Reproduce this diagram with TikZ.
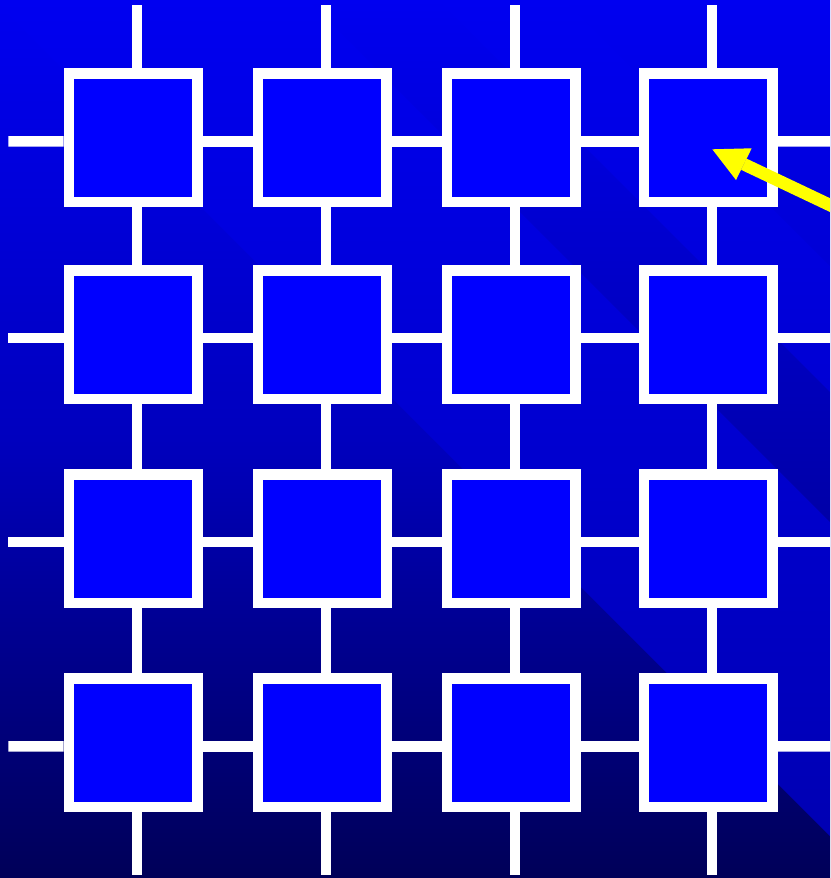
\documentclass[tikz,border=0pt]{standalone}
\usetikzlibrary{arrows.meta}
\definecolor{sqblue}{RGB}{0,0,255}
\definecolor{bgtop}{RGB}{0,0,240}
\definecolor{bgmid}{RGB}{0,0,190}
\definecolor{bgbot}{RGB}{0,0,88}
\definecolor{bandbot}{RGB}{0,0,176}
\definecolor{darkbandbot}{RGB}{0,0,117}
\definecolor{cornerbot}{RGB}{0,0,152}
\definecolor{arrowyellow}{RGB}{255,255,0}
\tikzset{
  cell/.style={rectangle, draw=white, line width=10.5pt, fill=sqblue,
    minimum width=128.5pt, minimum height=128.5pt, inner sep=0pt},
  link/.style={draw=white, line width=10.6pt},
  shaft/.style={draw=arrowyellow, line width=12.5pt},
  head/.style={fill=arrowyellow}
}
\begin{document}
\begin{tikzpicture}[x=1pt,y=-1pt]
\useasboundingbox (0,0) rectangle (830,878);
\clip (0,0) rectangle (830,878);
% background: base vertical gradient
\shade[top color=bgtop, bottom color=bgbot, middle color=bgmid] (0,0) rectangle (830,878);
% diagonal bands
\begin{scope}
  \clip (0,0) -- (308,0) -- (830,522) -- (830,836) -- (0,6) -- cycle;
  \shade[top color=bgtop, bottom color=bandbot] (0,0) rectangle (830,878);
\end{scope}
\begin{scope}
  \clip (308,0) -- (438,0) -- (830,392) -- (830,522) -- cycle;
  \shade[top color=bgtop, bottom color=darkbandbot] (0,0) rectangle (830,878);
\end{scope}
\begin{scope}
  \clip (438,0) -- (564,0) -- (830,266) -- (830,392) -- cycle;
  \shade[top color=bgtop, bottom color=bandbot] (0,0) rectangle (830,878);
\end{scope}
\begin{scope}
  \clip (564,0) -- (830,0) -- (830,266) -- cycle;
  \shade[top color=bgtop, bottom color=cornerbot] (0,0) rectangle (830,878);
\end{scope}

% squares
\foreach \c/\x in {1/133,2/322,3/511,4/708.1}
  \foreach \r/\y in {1/137.8,2/334.5,3/538.5,4/742.8}
    \node[cell] (s\r\c) at (\x,\y) {};

% free ends of the stubs
\foreach \c/\x in {1/137,2/326,3/515,4/712.1} {
  \coordinate (top\c) at (\x,5.3);
  \coordinate (bot\c) at (\x,875);
}
\foreach \r/\y in {1/141.4,2/338.1,3/542.1,4/746.4} {
  \coordinate (lft\r) at (8.3,\y);
  \coordinate (rgt\r) at (834,\y);
}

% vertical links
\foreach \c in {1,2,3,4} {
  \draw[link] (top\c) -- ([xshift=4pt]s1\c.north);
  \draw[link] ([xshift=4pt]s1\c.south) -- ([xshift=4pt]s2\c.north);
  \draw[link] ([xshift=4pt]s2\c.south) -- ([xshift=4pt]s3\c.north);
  \draw[link] ([xshift=4pt]s3\c.south) -- ([xshift=4pt]s4\c.north);
  \draw[link] ([xshift=4pt]s4\c.south) -- (bot\c);
}
% horizontal links
\foreach \r in {1,2,3,4} {
  \draw[link] (lft\r) -- ([yshift=-3.6pt]s\r1.west);
  \draw[link] ([yshift=-3.6pt]s\r1.east) -- ([yshift=-3.6pt]s\r2.west);
  \draw[link] ([yshift=-3.6pt]s\r2.east) -- ([yshift=-3.6pt]s\r3.west);
  \draw[link] ([yshift=-3.6pt]s\r3.east) -- ([yshift=-3.6pt]s\r4.west);
  \draw[link] ([yshift=-3.6pt]s\r4.east) -- (rgt\r);
}

% yellow arrow
\coordinate (tip) at (712.3,149.3);
\coordinate (barbA) at (751.7,148.3);
\coordinate (barbB) at (736,180);
\coordinate (base) at (743.8,164.2);
\coordinate (tail) at (850,214.6);
\draw[shaft] (tail) -- (base);
\fill[head] (tip) -- (barbA) -- (barbB) -- cycle;
\end{tikzpicture}
\end{document}
